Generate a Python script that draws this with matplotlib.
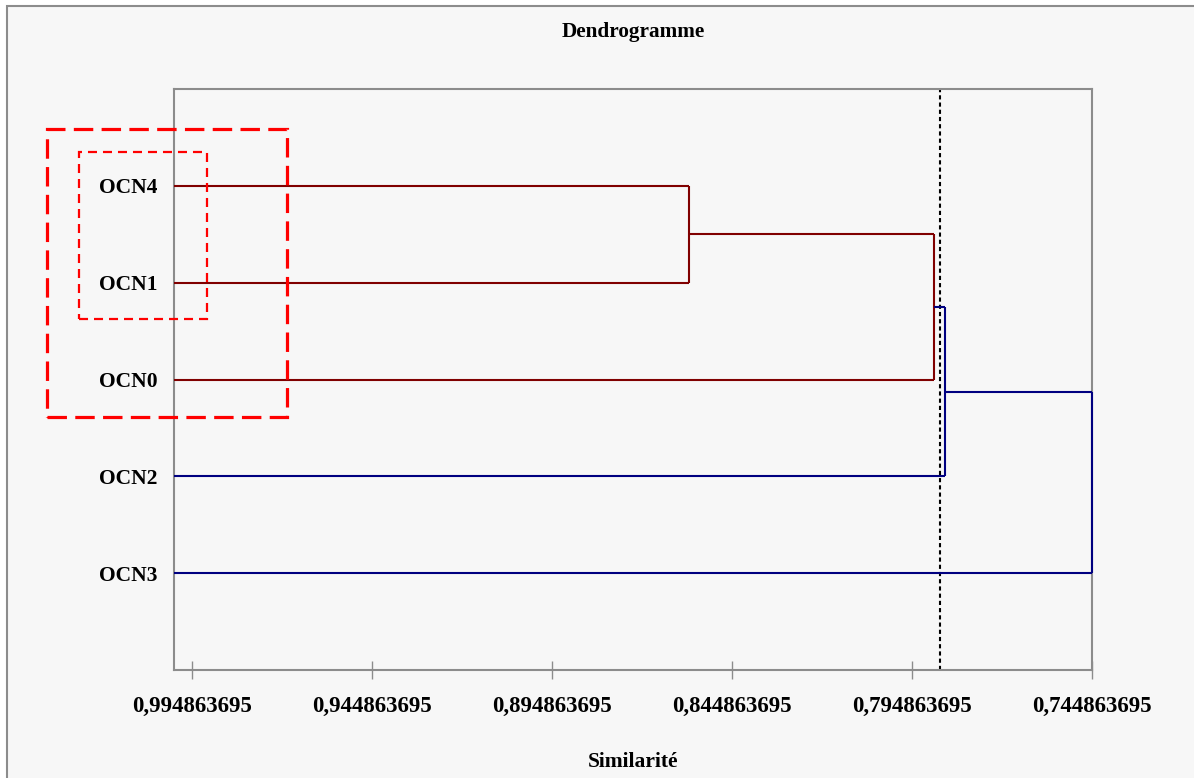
import matplotlib
matplotlib.use("Agg")
import matplotlib.pyplot as plt
from matplotlib.patches import Rectangle

# ---- data ----
leaves = ["OCN4", "OCN1", "OCN0", "OCN2", "OCN3"]          # top to bottom
leaf_similarity = 1.0
# merges: (left member, right member, similarity)
merges = [("OCN4", "OCN1", 0.85681),
          ("C1", "OCN0", 0.78875),
          ("C2", "OCN2", 0.78561),
          ("C3", "OCN3", 0.744863695)]
merge_colors = ["#800000", "#800000", "#000080", "#000080"]
leaf_colors = {"OCN4": "#800000", "OCN1": "#800000", "OCN0": "#800000",
               "OCN2": "#000080", "OCN3": "#000080"}
cutoff = 0.78709
xticks = [0.994863695, 0.944863695, 0.894863695, 0.844863695, 0.794863695, 0.744863695]
xticklabels = ["0,994863695", "0,944863695", "0,894863695", "0,844863695", "0,794863695", "0,744863695"]
x_range = (1.0, 0.744863695)

W, H = 1194, 778
fig = plt.figure(figsize=(W / 100, H / 100), dpi=100, facecolor="white")
plt.rcParams["lines.scale_dashes"] = False
serif = ["Liberation Serif", "DejaVu Serif"]

# figure frame
fig.add_artist(Rectangle((7 / W, -0.05), 1.1, 1 - 6 / H + 0.05, transform=fig.transFigure,
                         facecolor="#f7f7f7", edgecolor="#8c8c8c", linewidth=1.5, zorder=0))

ax = fig.add_axes([174 / W, 1 - 670 / H, (1092 - 174) / W, (670 - 89) / H])
ax.set_facecolor("#f7f7f7")

n = len(leaves)
ypos = {name: n - 1 - i for i, name in enumerate(leaves)}
xpos = {name: leaf_similarity for name in leaves}

for k, (a, b, s) in enumerate(merges):
    col = merge_colors[k]
    ya, yb = ypos[a], ypos[b]
    ca = leaf_colors[a] if a in leaf_colors else col
    cb = leaf_colors[b] if b in leaf_colors else col
    kw = dict(lw=1.5, solid_capstyle="butt", clip_on=False, zorder=4)
    ax.plot([xpos[a], s], [ya, ya], color=ca, **kw)
    ax.plot([xpos[b], s], [yb, yb], color=cb, **kw)
    ax.plot([s, s], [ya, yb], color=col, **kw)
    name = "C%d" % (k + 1)
    ypos[name] = (ya + yb) / 2
    xpos[name] = s

ax.axvline(cutoff, color="black", lw=1.5, linestyle=(0, (3, 2.2)))

ax.set_xlim(*x_range)
ax.set_ylim(-1, n)
ax.set_xticks(xticks)
ax.set_xticklabels(xticklabels, fontsize=16.5, fontweight="bold", family=serif)
ax.set_yticks([ypos[l] for l in leaves])
ax.set_yticklabels(leaves, fontsize=15.5, fontweight="bold", family=serif)
ax.tick_params(axis="x", direction="inout", length=13, width=1, color="#8c8c8c", pad=12)
ax.tick_params(axis="y", length=0, pad=12)
for sp in ax.spines.values():
    sp.set_color("#8c8c8c")
    sp.set_linewidth(1.5)

fig.text(633 / W, 1 - 32 / H, "Dendrogramme", ha="center", va="center",
         fontsize=15.3, fontweight="bold", family=serif)
fig.text(633 / W, 1 - 762 / H, "Similarité", ha="center", va="center",
         fontsize=15.5, fontweight="bold", family=serif)

# annotation rectangles
def frect(x0, y0, x1, y1, lw, dash):
    fig.add_artist(Rectangle((x0 / W, 1 - y1 / H), (x1 - x0) / W, (y1 - y0) / H,
                             transform=fig.transFigure, fill=False, edgecolor="red",
                             linewidth=lw, linestyle=(0, dash), zorder=5))

frect(47, 129, 287, 417, 2.3, (14, 6))
frect(79, 152, 207, 319, 1.6, (6.5, 4.3))

fig.savefig("out.png", dpi=100, facecolor=fig.get_facecolor())
